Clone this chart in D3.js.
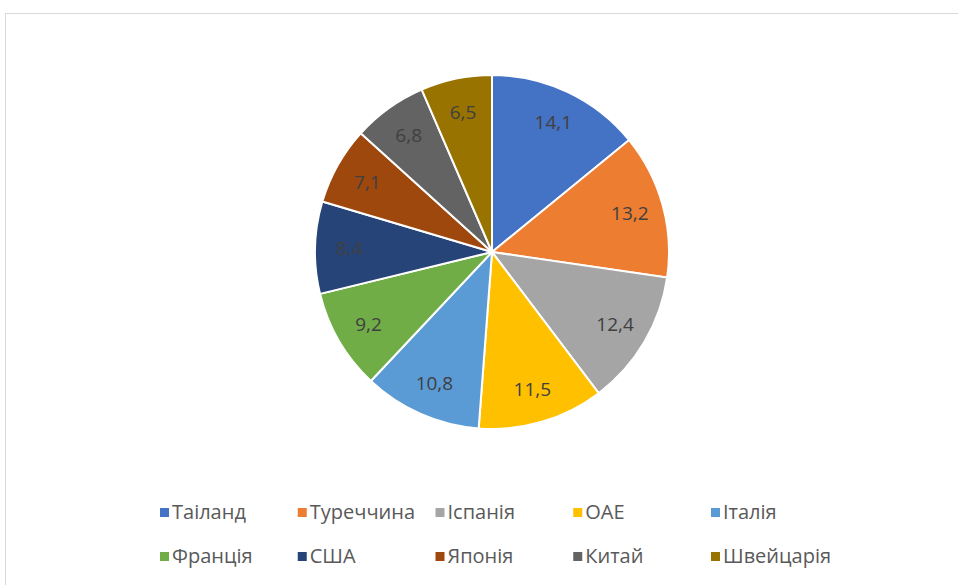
<!DOCTYPE html>
<html>
<head>
<meta charset="utf-8">
<script src="https://d3js.org/d3.v7.min.js"></script>
<style>
  body { margin: 0; background: #fff; }
  svg { display: block; }
</style>
</head>
<body>
<div id="chart"></div>
<script>
const countries = ["Таіланд", "Туреччина", "Іспанія", "ОАЕ", "Італія", "Франція", "США", "Японія", "Китай", "Швейцарія"];
const shares = [14.1, 13.2, 12.4, 11.5, 10.8, 9.2, 8.4, 7.1, 6.8, 6.5];
const colors = ["#4472C4", "#ED7D31", "#A5A5A5", "#FFC000", "#5B9BD5", "#70AD47", "#264478", "#9E480E", "#636363", "#997300"];

const width = 958, height = 585;
const font = "'Open Sans', 'Noto Sans', sans-serif";

const svg = d3.select("#chart").append("svg")
    .attr("width", width)
    .attr("height", height);

// chart frame
svg.append("rect")
    .attr("x", 5.5)
    .attr("y", 13.5)
    .attr("width", width)
    .attr("height", height)
    .attr("fill", "#fff")
    .attr("stroke", "#d9d9d9")
    .attr("stroke-width", 1);

const cx = 492, cy = 252, radius = 177;

const color = d3.scaleOrdinal().domain(countries).range(colors);

const pie = d3.pie().sort(null).value(d => d.value);
const pieData = pie(countries.map((c, i) => ({ name: c, value: shares[i] })));

const arc = d3.arc().innerRadius(0).outerRadius(radius);
const labelArc = d3.arc().innerRadius(143).outerRadius(143);

const g = svg.append("g")
    .attr("transform", "translate(" + cx + "," + cy + ")");

g.selectAll("path")
    .data(pieData)
    .enter()
    .append("path")
        .attr("d", arc)
        .attr("fill", d => color(d.data.name))
        .attr("stroke", "#fff")
        .attr("stroke-width", 2);

g.selectAll("text.val")
    .data(pieData)
    .enter()
    .append("text")
        .attr("class", "val")
        .attr("transform", d => "translate(" + labelArc.centroid(d) + ")")
        .attr("text-anchor", "middle")
        .attr("dy", "0.35em")
        .attr("font-family", font)
        .attr("font-size", "19px")
        .attr("fill", "#404040")
        .text(d => d3.format(".1f")(d.data.value).replace(".", ","));

// legend
const legX = d3.scalePoint().domain(d3.range(5)).range([160, 711]);
const legY = d3.scalePoint().domain([0, 1]).range([512, 556]);

const leg = svg.selectAll("g.leg")
    .data(countries)
    .enter()
    .append("g")
        .attr("class", "leg")
        .attr("transform", (d, i) => "translate(" + legX(i % 5) + "," + legY(Math.floor(i / 5)) + ")");

leg.append("rect")
    .attr("x", 0)
    .attr("y", -4)
    .attr("width", 9)
    .attr("height", 9)
    .attr("fill", d => color(d));

leg.append("text")
    .attr("x", 12)
    .attr("dy", "0.35em")
    .attr("font-family", font)
    .attr("font-size", "20px")
    .attr("fill", "#595959")
    .text(d => d);
</script>
</body>
</html>
